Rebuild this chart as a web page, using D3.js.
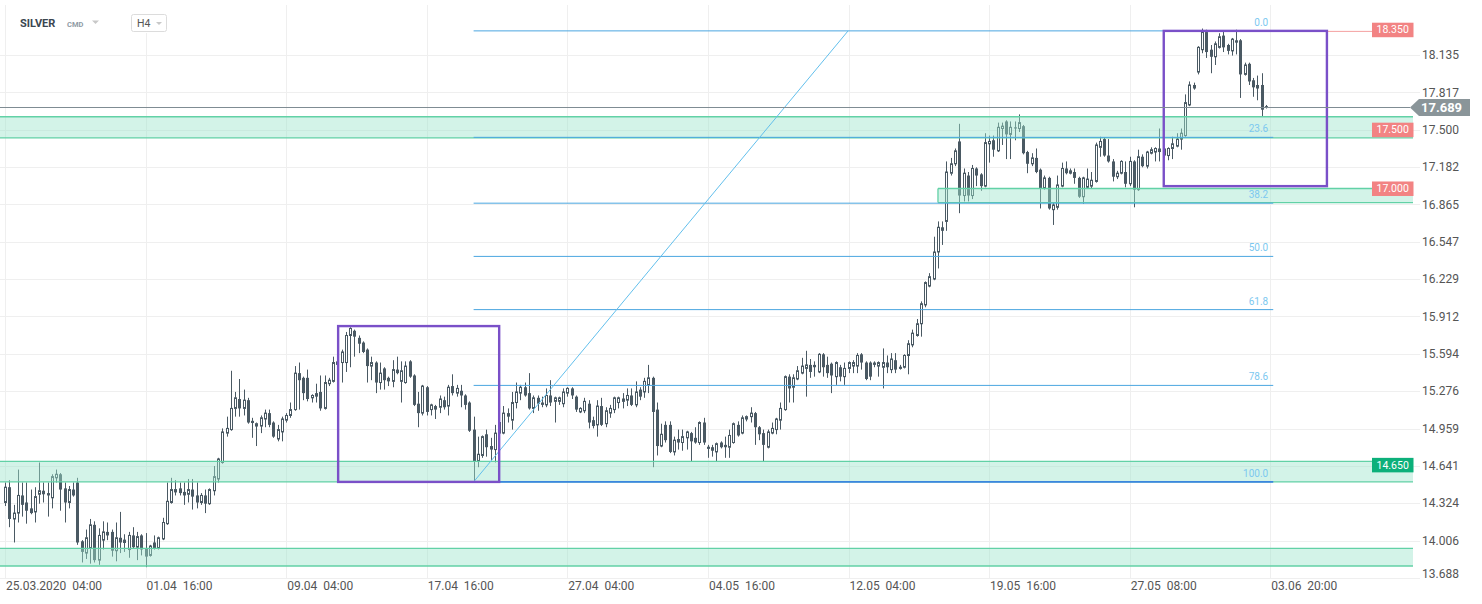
<!DOCTYPE html>
<html><head><meta charset="utf-8">
<script src="https://cdn.jsdelivr.net/npm/d3@7"></script>
<style>
html,body{margin:0;padding:0;background:#fff;}
svg{display:block;font-family:Roboto,"Noto Sans",sans-serif;}
</style></head><body>
<svg id="chart" width="1482" height="604"></svg>
<script>
// ---- data (SILVER H4, 25.03.2020 04:00 onward) ----
const opens=[
14.33,14.46,14.19,14.24,14.39,14.33,14.28,14.25,14.40,14.43,
14.41,14.37,14.54,14.57,14.45,14.33,14.44,14.50,14.00,13.90,
13.94,14.14,13.84,14.01,14.08,14.08,13.92,14.03,13.99,13.93,
14.05,13.95,14.05,13.94,13.88,13.99,13.94,14.02,14.15,14.33,
14.42,14.45,14.42,14.40,14.44,14.39,14.33,14.39,14.32,14.43,
14.53,14.67,14.92,14.95,15.13,15.21,15.13,15.20,15.01,14.98,
14.98,15.04,15.09,15.01,14.87,14.93,15.03,15.07,15.12,15.43,
15.39,15.39,15.22,15.26,15.27,15.13,15.34,15.36,15.53,15.52,
15.52,15.75,15.79,15.73,15.69,15.63,15.49,15.52,15.35,15.47,
15.39,15.36,15.46,15.36,15.35,15.53,15.41,15.17,15.09,15.31,
15.12,15.15,15.14,15.20,15.15,15.32,15.26,15.28,15.24,15.18,
14.95,14.68,14.73,14.91,14.81,14.78,14.92,14.92,15.09,15.03,
15.18,15.26,15.31,15.26,15.13,15.22,15.18,15.16,15.24,15.19,
15.19,15.17,15.26,15.30,15.23,15.10,15.11,15.17,15.03,14.99,
15.15,15.00,15.09,15.12,15.18,15.19,15.20,15.24,15.16,15.29,
15.27,15.33,15.39,15.12,14.81,14.99,14.99,14.76,14.87,14.84,
14.88,14.92,14.88,14.84,15.01,14.79,14.80,14.76,14.84,14.82,
14.80,14.84,14.99,14.92,15.04,15.06,15.09,14.97,14.92,14.80,
14.92,14.95,15.03,15.12,15.40,15.31,15.38,15.43,15.47,15.50,
15.50,15.44,15.59,15.50,15.51,15.40,15.48,15.40,15.47,15.49,
15.49,15.59,15.52,15.52,15.52,15.49,15.48,15.52,15.46,15.54,
15.47,15.48,15.58,15.67,15.75,15.85,16.01,16.17,16.23,16.46,
16.67,16.72,17.13,17.21,17.40,16.94,17.11,16.94,17.17,17.12,
17.02,17.38,17.41,17.32,17.51,17.57,17.46,17.52,17.51,17.53,
17.31,17.21,17.26,17.16,17.00,17.09,16.82,16.84,17.02,17.17,
17.13,17.14,17.09,16.93,17.01,17.02,17.06,17.35,17.42,17.28,
17.23,17.10,17.13,17.14,17.04,17.23,16.99,17.27,17.19,17.30,
17.31,17.34,17.34,17.28,17.34,17.36,17.42,17.45,17.71,17.88,
17.99,18.18,18.33,18.18,18.12,18.20,18.30,18.22,18.17,18.26,
18.26,17.97,18.06,17.92,17.88,17.88,17.70];
const highs=[
14.50,14.52,14.31,14.61,14.50,14.50,14.44,14.46,14.67,14.50,
14.50,14.57,14.61,14.58,14.50,14.47,14.50,14.54,14.01,14.10,
14.19,14.17,14.11,14.17,14.16,14.10,14.16,14.25,14.06,14.08,
14.12,14.08,14.06,14.07,13.97,14.05,14.04,14.20,14.50,14.54,
14.52,14.50,14.50,14.53,14.53,14.50,14.41,14.44,14.45,14.64,
14.71,14.96,15.06,15.45,15.27,15.38,15.29,15.22,15.05,15.01,
15.07,15.12,15.12,15.02,14.99,15.06,15.09,15.18,15.49,15.52,
15.40,15.46,15.25,15.34,15.41,15.41,15.39,15.57,15.56,15.63,
15.78,15.82,15.80,15.75,15.70,15.64,15.57,15.53,15.52,15.48,
15.40,15.54,15.57,15.53,15.53,15.54,15.42,15.27,15.33,15.32,
15.17,15.16,15.24,15.23,15.33,15.42,15.33,15.33,15.25,15.19,
15.06,14.89,14.90,14.95,14.88,14.99,15.05,15.15,15.13,15.27,
15.35,15.33,15.35,15.43,15.24,15.24,15.23,15.30,15.37,15.23,
15.23,15.30,15.31,15.31,15.24,15.14,15.22,15.20,15.06,15.20,
15.22,15.14,15.16,15.23,15.23,15.26,15.30,15.30,15.36,15.31,
15.39,15.50,15.40,15.18,15.00,15.02,15.02,14.89,14.95,14.95,
14.94,14.93,14.97,15.02,15.05,14.82,14.82,14.84,14.85,14.89,
14.95,15.01,15.02,15.07,15.07,15.14,15.10,14.98,14.95,14.95,
15.01,15.05,15.18,15.41,15.42,15.42,15.49,15.56,15.62,15.55,
15.53,15.60,15.60,15.57,15.52,15.53,15.50,15.52,15.53,15.54,
15.60,15.60,15.53,15.53,15.53,15.53,15.64,15.58,15.60,15.60,
15.50,15.59,15.71,15.80,15.89,16.04,16.21,16.28,16.59,16.72,
16.72,17.23,17.26,17.34,17.55,17.17,17.14,17.20,17.18,17.13,
17.47,17.45,17.45,17.56,17.56,17.58,17.57,17.57,17.63,17.54,
17.32,17.30,17.34,17.17,17.11,17.10,16.88,17.11,17.22,17.23,
17.17,17.17,17.10,17.10,17.17,17.14,17.39,17.44,17.43,17.42,
17.25,17.15,17.24,17.23,17.27,17.24,17.33,17.29,17.32,17.35,
17.35,17.51,17.35,17.35,17.44,17.47,17.51,17.80,17.91,17.90,
18.21,18.36,18.35,18.22,18.25,18.32,18.34,18.23,18.28,18.35,
18.27,18.07,18.07,17.94,17.96,17.98,17.71];
const lows=[
14.30,14.12,13.99,14.16,14.21,14.15,14.23,14.16,14.32,14.33,
14.21,14.28,14.50,14.26,14.16,14.28,14.38,13.97,13.82,13.85,
13.81,13.82,13.80,13.93,14.01,13.87,13.83,13.90,13.91,13.86,
13.94,13.84,13.88,13.78,13.87,13.93,13.93,14.01,14.14,14.32,
14.39,14.39,14.31,14.33,14.27,14.28,14.31,14.24,14.31,14.39,
14.50,14.66,14.89,14.94,15.06,15.06,15.07,15.00,14.88,14.81,
14.92,14.97,14.97,14.88,14.85,14.85,15.01,15.05,15.11,15.12,
15.20,15.19,15.18,15.18,15.11,15.12,15.32,15.35,15.47,15.35,
15.44,15.48,15.57,15.60,15.60,15.35,15.37,15.26,15.29,15.29,
15.32,15.31,15.42,15.18,15.34,15.39,15.15,14.97,15.07,15.07,
15.07,15.04,15.09,15.12,15.07,15.24,15.23,15.14,15.12,14.93,
14.505,14.63,14.71,14.72,14.69,14.67,14.89,14.91,15.01,14.95,
15.13,15.20,15.23,15.12,15.09,15.11,15.14,15.14,15.15,15.01,
15.16,15.14,15.23,15.21,15.10,15.09,15.09,14.96,14.96,14.89,
14.98,14.97,15.05,15.09,15.13,15.13,15.15,15.15,15.14,15.20,
15.22,15.26,14.63,14.73,14.80,14.84,14.75,14.73,14.78,14.77,
14.78,14.68,14.83,14.82,14.82,14.71,14.72,14.68,14.79,14.71,
14.71,14.83,14.89,14.91,15.02,15.01,14.82,14.86,14.68,14.79,
14.91,14.91,14.95,15.11,15.18,15.18,15.37,15.42,15.23,15.39,
15.40,15.43,15.40,15.39,15.26,15.33,15.36,15.33,15.43,15.43,
15.43,15.46,15.37,15.37,15.48,15.40,15.30,15.43,15.43,15.43,
15.46,15.47,15.42,15.65,15.74,15.74,15.99,16.16,16.22,16.32,
16.52,16.64,17.11,17.19,16.79,16.89,16.89,16.91,17.02,16.98,
17.01,17.22,17.27,17.31,17.37,17.25,17.25,17.41,17.48,17.29,
17.13,17.19,17.13,16.83,16.99,16.82,16.69,16.82,17.01,17.12,
17.12,17.04,16.92,16.87,17.00,17.00,17.05,17.27,17.27,17.22,
17.06,17.08,17.12,17.01,17.02,16.84,16.98,17.18,17.17,17.29,
17.23,17.23,17.26,17.24,17.25,17.35,17.33,17.44,17.70,17.84,
17.97,18.15,18.11,17.98,18.05,18.19,18.16,18.14,18.13,18.14,
17.77,17.96,17.88,17.78,17.75,17.61,17.68];
const closes=[
14.46,14.19,14.24,14.39,14.31,14.26,14.24,14.38,14.43,14.40,
14.39,14.55,14.57,14.44,14.33,14.44,14.39,13.99,13.91,14.03,
14.14,13.84,14.05,14.08,14.05,13.92,14.03,13.99,14.01,14.05,
13.95,14.04,13.93,13.87,13.96,13.94,14.03,14.16,14.34,14.44,
14.44,14.41,14.39,14.44,14.38,14.33,14.39,14.32,14.44,14.55,
14.70,14.93,14.96,15.13,15.22,15.13,15.20,15.01,15.02,15.00,
15.05,15.09,14.99,14.89,14.95,15.04,15.07,15.12,15.43,15.37,
15.26,15.21,15.24,15.23,15.13,15.35,15.37,15.52,15.50,15.61,
15.75,15.81,15.74,15.68,15.61,15.49,15.52,15.35,15.43,15.37,
15.36,15.46,15.43,15.45,15.49,15.40,15.16,15.09,15.32,15.10,
15.16,15.12,15.21,15.14,15.31,15.26,15.30,15.24,15.16,14.94,
14.68,14.74,14.89,14.80,14.78,14.92,15.01,15.09,15.06,15.18,
15.27,15.31,15.24,15.13,15.22,15.17,15.16,15.24,15.18,15.22,
15.22,15.27,15.30,15.24,15.12,15.13,15.19,15.01,14.98,15.15,
14.99,15.11,15.13,15.22,15.22,15.21,15.24,15.16,15.27,15.23,
15.36,15.39,15.10,14.81,14.91,14.86,14.76,14.86,14.84,14.89,
14.93,14.85,14.84,15.01,14.84,14.80,14.77,14.83,14.80,14.80,
14.90,15.00,14.90,15.05,15.06,15.09,14.97,14.91,14.82,14.93,
14.96,15.04,15.13,15.40,15.30,15.39,15.45,15.49,15.50,15.44,
15.48,15.59,15.48,15.43,15.41,15.52,15.40,15.47,15.52,15.52,
15.58,15.52,15.38,15.40,15.50,15.52,15.52,15.48,15.55,15.46,
15.48,15.58,15.68,15.77,15.85,16.02,16.20,16.25,16.46,16.67,
16.64,17.14,17.21,17.32,16.94,17.13,16.94,17.17,17.11,17.02,
17.39,17.40,17.33,17.52,17.53,17.46,17.52,17.51,17.56,17.30,
17.21,17.26,17.14,17.00,17.09,16.83,16.86,17.03,17.17,17.13,
17.15,17.09,16.93,17.09,17.08,17.07,17.37,17.40,17.28,17.23,
17.10,17.13,17.23,17.04,17.23,16.99,17.27,17.19,17.31,17.33,
17.34,17.31,17.28,17.34,17.38,17.42,17.47,17.73,17.88,17.85,
18.20,18.33,18.16,18.12,18.23,18.29,18.20,18.17,18.27,18.24,
17.97,18.05,17.91,17.86,17.85,17.67,17.689];

const xTickIndex=[0,33,66,99,132,165,198,231,264,297];
const xTickLabels=["25.03.2020  04:00","01.04  16:00","09.04  04:00","17.04  16:00","27.04  04:00","04.05  16:00","12.05  04:00","19.05  16:00","27.05  08:00","03.06  20:00"];
const yTicks=[13.688,14.006,14.324,14.641,14.959,15.276,15.594,15.912,16.229,16.547,16.865,17.182,17.500,17.817,18.135];

// horizontal zones [low price, high price, first bar index]
const zoneLows=[17.43,16.88,14.505,13.79];
const zoneHighs=[17.61,17.00,14.68,13.94];
const zoneStarts=[null,219,null,null];

// price tags on the right
const tagValues=[18.350,17.500,17.000,14.650];
const tagKinds=["red","red","red","green"];
const lastPrice=17.689;

// fibonacci retracement
const fibLevels=[0,23.6,38.2,50.0,61.8,78.6,100.0];
const fibLabels=["0.0","23.6","38.2","50.0","61.8","78.6","100.0"];
const fibHigh=18.34, fibLow=14.505;
const fibStartIdx=110, fibEndIdx=297.7, trendEndIdx=197.9;

// rectangles [startIdx, endIdx, top, bottom]
const boxStart=[78.2,272], boxEnd=[116,310.3], boxTop=[15.83,18.34], boxBottom=[14.505,17.02];

// ---- drawing ----
const svg=d3.select("#chart");
const W=1482,H=604;
const plotRight=1413, gridRight=1420, plotBottom=578;
const x=d3.scaleLinear().domain([0,296]).range([5,1266]);
const y=d3.scaleLinear().domain([13.688,18.135]).range([578,55]);
const candleCol="#4a5963";

svg.append("rect").attr("width",W).attr("height",H).attr("fill","#fff");

// grid
const grid=svg.append("g");
grid.selectAll("line.h").data(yTicks).join("line")
  .attr("x1",0).attr("x2",gridRight)
  .attr("y1",d=>Math.round(y(d))+0.5).attr("y2",d=>Math.round(y(d))+0.5)
  .attr("stroke","#efefef").attr("stroke-width",1);
grid.selectAll("line.v").data(xTickIndex).join("line")
  .attr("x1",d=>Math.round(x(d))+0.5).attr("x2",d=>Math.round(x(d))+0.5)
  .attr("y1",5).attr("y2",plotBottom)
  .attr("stroke","#efefef").attr("stroke-width",1);

// header backdrop
svg.append("rect").attr("x",10).attr("y",0).attr("width",165).attr("height",33).attr("fill","#fff");

// candles
const data=opens.map((o,i)=>({i,o,h:highs[i],l:lows[i],c:closes[i]}));
const cg=svg.append("g");
const cand=cg.selectAll("g").data(data).join("g");
cand.append("line")
  .attr("x1",d=>Math.round(x(d.i))+0.5).attr("x2",d=>Math.round(x(d.i))+0.5)
  .attr("y1",d=>y(d.h)).attr("y2",d=>y(d.l))
  .attr("stroke",candleCol).attr("stroke-width",1);
cand.append("rect")
  .attr("x",d=>d.c>=d.o?Math.round(x(d.i))-0.5:Math.round(x(d.i))-1)
  .attr("width",d=>d.c>=d.o?2:3)
  .attr("y",d=>y(Math.max(d.o,d.c)))
  .attr("height",d=>Math.max(1,Math.abs(y(d.o)-y(d.c))))
  .attr("fill",d=>d.c>=d.o?"#fff":candleCol)
  .attr("stroke",d=>d.c>=d.o?candleCol:"none")
  .attr("stroke-width",1);

// zones (translucent, over candles)
const zg=svg.append("g");
zoneLows.forEach((lo,k)=>{
  const hi=zoneHighs[k];
  const x0=zoneStarts[k]===null?0:x(zoneStarts[k]);
  const y0=y(hi), y1=y(lo);
  zg.append("rect").attr("x",x0).attr("y",y0).attr("width",plotRight-x0).attr("height",y1-y0)
    .attr("fill","rgba(157,228,204,0.45)");
  const sc="#62d1a6";
  zg.append("line").attr("x1",x0).attr("x2",plotRight).attr("y1",y0).attr("y2",y0).attr("stroke",sc).attr("stroke-width",1.3);
  zg.append("line").attr("x1",x0).attr("x2",plotRight).attr("y1",y1).attr("y2",y1).attr("stroke",sc).attr("stroke-width",1.3);
  if(zoneStarts[k]!==null){
    zg.append("line").attr("x1",x0).attr("x2",x0).attr("y1",y0).attr("y2",y1).attr("stroke",sc).attr("stroke-width",1.3);
  }
});

// 18.350 level line (pink)
svg.append("line").attr("x1",x(272)).attr("x2",1372).attr("y1",y(fibHigh)+0.5).attr("y2",y(fibHigh)+0.5)
  .attr("stroke","#f4a0a0").attr("stroke-width",1);

// fibonacci
const fg=svg.append("g");
fibLevels.forEach((lv,k)=>{
  const v=fibHigh-(fibHigh-fibLow)*lv/100;
  const yy=y(v);
  fg.append("line").attr("x1",x(fibStartIdx)).attr("x2",x(fibEndIdx)).attr("y1",yy).attr("y2",yy)
    .attr("stroke",lv===100?"#3b86df":"#4aa6e0").attr("stroke-width",lv===100?1.6:1);
  fg.append("text").attr("x",x(fibEndIdx)-5).attr("y",yy-5).attr("text-anchor","end")
    .attr("font-size",10).attr("fill","#7cc8f0").text(fibLabels[k]);
});
fg.append("line").attr("x1",x(fibStartIdx)).attr("y1",y(fibLow)).attr("x2",x(trendEndIdx)).attr("y2",y(fibHigh))
  .attr("stroke","#62bfec").attr("stroke-width",1);

// rectangles
boxStart.forEach((s,k)=>{
  svg.append("rect").attr("x",x(s)).attr("y",y(boxTop[k])).attr("width",x(boxEnd[k])-x(s))
    .attr("height",y(boxBottom[k])-y(boxTop[k])).attr("fill","none")
    .attr("stroke","#7a50c8").attr("stroke-width",2.4);
});

// last price line
svg.append("line").attr("x1",0).attr("x2",1410).attr("y1",Math.round(y(lastPrice))+0.5).attr("y2",Math.round(y(lastPrice))+0.5)
  .attr("stroke","#7f8c93").attr("stroke-width",1);

// y axis labels
svg.append("g").selectAll("text").data(yTicks).join("text")
  .attr("x",1422).attr("y",d=>Math.min(y(d),574)).attr("dy","0.35em")
  .attr("font-size",12).attr("fill","#555").text(d=>d.toFixed(3));

// tags
tagValues.forEach((v,k)=>{
  const yy=y(v);
  svg.append("rect").attr("x",1372).attr("y",yy-7).attr("width",41.5).attr("height",14.5)
    .attr("fill",tagKinds[k]==="red"?"#f28383":"#0cb07a");
  svg.append("text").attr("x",1392.7).attr("y",yy).attr("dy","0.36em").attr("text-anchor","middle")
    .attr("font-size",10.5).attr("fill","#fff").text(v.toFixed(3));
});
{
  const yy=y(lastPrice);
  svg.append("path").attr("d",`M1410,${yy} L1419,${yy-8.5} L1470,${yy-8.5} L1470,${yy+8.5} L1419,${yy+8.5} Z`)
    .attr("fill","#8a9599");
  svg.append("text").attr("x",1421).attr("y",yy).attr("dy","0.36em").attr("font-size",13).attr("font-weight",700)
    .attr("fill","#fff").text(lastPrice.toFixed(3));
}

// x axis labels
svg.append("g").selectAll("text").data(xTickIndex).join("text")
  .attr("x",d=>x(d)+1).attr("y",590).attr("font-size",12).attr("fill","#555")
  .style("white-space","pre").text((d,k)=>xTickLabels[k]);

// header
svg.append("text").attr("x",20).attr("y",27).attr("font-size",11).attr("font-weight",700).attr("fill","#3b4650").text("SILVER");
svg.append("text").attr("x",67).attr("y",27).attr("font-size",7.5).attr("font-weight",700).attr("fill","#8f9ba5").text("CMD");
svg.append("path").attr("d","M92,20.5 L99,20.5 L95.5,24 Z").attr("fill","#c8c8c8");
svg.append("rect").attr("x",131.5).attr("y",14.5).attr("width",35).attr("height",17).attr("rx",2)
  .attr("fill","#fff").attr("stroke","#dcdcdc");
svg.append("text").attr("x",137).attr("y",27).attr("font-size",10.5).attr("fill","#555").text("H4");
svg.append("path").attr("d","M156,22 L162,22 L159,25 Z").attr("fill","#c8c8c8");
</script>
</body></html>
